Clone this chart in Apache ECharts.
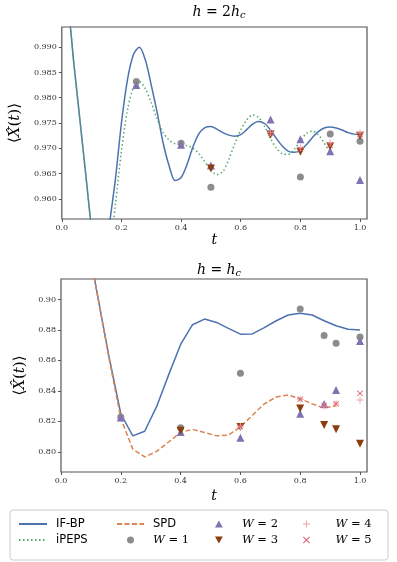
<!DOCTYPE html>
<html>
<head>
<meta charset="utf-8">
<script src="https://cdn.jsdelivr.net/npm/echarts@6/dist/echarts.min.js"></script>
<style>
  html, body { margin: 0; padding: 0; background: #fff; }
  #chart { width: 397px; height: 562px; }
</style>
</head>
<body>
<div id="chart"></div>
<script>
// top panel, h = 2h_c
var tTop = [0, 0.02, 0.04, 0.06, 0.08, 0.10, 0.12, 0.14, 0.16, 0.18, 0.20, 0.22, 0.24, 0.26, 0.28, 0.30, 0.32,
    0.34, 0.36, 0.38, 0.40, 0.42, 0.44, 0.46, 0.48, 0.50, 0.52, 0.54, 0.56, 0.58, 0.60, 0.62, 0.64, 0.66,
    0.68, 0.70, 0.72, 0.74, 0.76, 0.78, 0.80, 0.82, 0.84, 0.86, 0.88, 0.90, 0.92, 0.94, 0.96, 0.98, 1.00];
var ifbpTop = [1.000, 0.998, 0.987, 0.976, 0.965, 0.954, 0.946, 0.945, 0.955, 0.964, 0.975, 0.9835, 0.9885, 0.9900,
    0.9875, 0.9825, 0.977, 0.971, 0.9665, 0.9636, 0.9642, 0.9668, 0.9703, 0.9729, 0.9741, 0.9743, 0.9738,
    0.9731, 0.9726, 0.9724, 0.9727, 0.9737, 0.9748, 0.9753, 0.9749, 0.9736, 0.9719, 0.9704, 0.9694, 0.9692,
    0.9696, 0.9707, 0.9721, 0.9733, 0.9740, 0.9742, 0.9740, 0.9736, 0.9731, 0.9728, 0.9727];
var ipepsTop = [1.000, 0.998, 0.987, 0.976, 0.965, 0.954, 0.946, 0.944, 0.949, 0.959, 0.9695, 0.9775, 0.9820,
    0.9832, 0.9818, 0.9790, 0.9757, 0.9731, 0.9716, 0.9709, 0.9707, 0.9705, 0.9700, 0.9689, 0.9673, 0.9657,
    0.9648, 0.9654, 0.9678, 0.9709, 0.9736, 0.9756, 0.9766, 0.9761, 0.9743, 0.9719, 0.9700, 0.9689, 0.9688,
    0.9698, 0.9715, 0.9729, 0.9734, 0.9727, 0.9710, 0.9692];

var w1TopT = [0.25, 0.4, 0.5, 0.8, 0.9, 1.0];
var w1Top = [0.9832, 0.9710, 0.9623, 0.9643, 0.9728, 0.9714];
var w2TopT = [0.25, 0.4, 0.5, 0.7, 0.8, 0.9, 1.0];
var w2Top = [0.9825, 0.9707, 0.9666, 0.9757, 0.9718, 0.9694, 0.9637];
var w3TopT = [0.5, 0.7, 0.8, 0.9, 1.0];
var w3Top = [0.9660, 0.9727, 0.9693, 0.9704, 0.9725];
var w4TopT = [0.7, 0.8, 0.9, 1.0];
var w4Top = [0.9731, 0.9701, 0.9711, 0.9730];
var w5TopT = [0.7, 0.8, 0.9, 1.0];
var w5Top = [0.9729, 0.9698, 0.9706, 0.9727];

// bottom panel, h = h_c
var tBot = [0, 0.04, 0.08, 0.12, 0.16, 0.20, 0.24, 0.28, 0.32, 0.36, 0.40, 0.44, 0.48, 0.52, 0.56, 0.60, 0.64,
    0.68, 0.72, 0.76, 0.80, 0.84, 0.88, 0.92, 0.96, 1.00];
var ifbpBot = [1.000, 0.985, 0.948, 0.905, 0.863, 0.825, 0.8105, 0.8135, 0.8298, 0.8505, 0.8705, 0.8834, 0.8871,
    0.8849, 0.8810, 0.8772, 0.8774, 0.8815, 0.8860, 0.8898, 0.8910, 0.8898, 0.8860, 0.8827, 0.8805, 0.8800];
var spdBot = [1.000, 0.985, 0.948, 0.905, 0.862, 0.822, 0.8018, 0.7967, 0.8003, 0.8065, 0.8128, 0.8148, 0.8127,
    0.8105, 0.8110, 0.8164, 0.8240, 0.8315, 0.8360, 0.8373, 0.8348, 0.8315, 0.8287, 0.8303];

var w1BotT = [0.2, 0.4, 0.6, 0.8, 0.88, 0.92, 1.0];
var w1Bot = [0.8228, 0.8158, 0.8516, 0.8937, 0.8763, 0.8713, 0.8753];
var w2BotT = [0.2, 0.4, 0.6, 0.8, 0.88, 0.92, 1.0];
var w2Bot = [0.8226, 0.8130, 0.8092, 0.8250, 0.8314, 0.8406, 0.8728];
var w3BotT = [0.4, 0.6, 0.8, 0.88, 0.92, 1.0];
var w3Bot = [0.8138, 0.8164, 0.8285, 0.8176, 0.8148, 0.8053];
var w4BotT = [0.6, 0.8, 0.88, 0.92, 1.0];
var w4Bot = [0.8166, 0.8345, 0.8300, 0.8316, 0.8340];
var w5BotT = [0.6, 0.8, 0.88, 0.92, 1.0];
var w5Bot = [0.8166, 0.8345, 0.8305, 0.8316, 0.8384];

var xTicks = [0, 0.2, 0.4, 0.6, 0.8, 1.0];
var yTicksTop = [0.960, 0.965, 0.970, 0.975, 0.980, 0.985, 0.990];
var yTicksBot = [0.80, 0.82, 0.84, 0.86, 0.88, 0.90];

var blue = '#4c72b0', orange = '#dd8452', green = '#55a868', gray = '#8c8c8c',
    purple = '#8172b3', brown = '#8b3d0f', pink = '#f2a3ab', red = '#d6606b';
var serif = 'DejaVu Serif';
var upTri = 'path://M5,0 L10,9 L0,9 Z';
var downTri = 'path://M0,0 L10,0 L5,9 Z';
var plus = 'path://M4.3,0 H5.7 V4.3 H10 V5.7 H5.7 V10 H4.3 V5.7 H0 V4.3 H4.3 Z';
var cross = 'path://M1,0 L5,4 L9,0 L10,1 L6,5 L10,9 L9,10 L5,6 L1,10 L0,9 L4,5 L0,1 Z';

function pairs(xs, ys) {
    return ys.map(function (v, i) { return [xs[i], v]; });
}

function mathRich(size) {
    return {
        i: { fontFamily: serif, fontStyle: 'italic', fontWeight: 'normal', fontSize: size, color: '#000' },
        m: { fontFamily: serif, fontWeight: 'normal', fontSize: size, color: '#000' },
        s: { fontFamily: serif, fontStyle: 'italic', fontWeight: 'normal', fontSize: size * 0.7, color: '#000',
            padding: [size * 0.4, 0, 0, 0] }
    };
}

function xAxis(idx, gap) {
    return {
        type: 'value', gridIndex: idx, min: 0, max: 1.0234,
        name: '{i|t}', nameLocation: 'middle', nameGap: gap,
        nameTextStyle: { rich: mathRich(14) },
        axisLine: { show: false },
        splitLine: { show: false },
        axisTick: { customValues: xTicks, length: 3, lineStyle: { color: '#555' } },
        axisLabel: {
            customValues: xTicks, fontFamily: serif, fontSize: 8, color: '#333', margin: 5,
            formatter: function (v) { return v.toFixed(1); }
        }
    };
}

function yAxis(idx, min, max, ticks, dec) {
    return {
        type: 'value', gridIndex: idx, min: min, max: max,
        name: '⟨{i|X̂}({i|t})⟩', nameLocation: 'middle', nameGap: 30, nameRotate: 90,
        nameTextStyle: { rich: mathRich(15), fontFamily: serif, fontSize: 15, color: '#000' },
        axisLine: { show: false },
        splitLine: { show: false },
        axisTick: { customValues: ticks, length: 3, lineStyle: { color: '#555' } },
        axisLabel: {
            customValues: ticks, fontFamily: serif, fontSize: 8, color: '#333', margin: 5,
            formatter: function (v) { return v.toFixed(dec); }
        }
    };
}

function lineSeries(name, idx, xs, ys, color, type) {
    return {
        name: name, type: 'line', xAxisIndex: idx, yAxisIndex: idx,
        data: pairs(xs, ys), symbol: 'none', smooth: idx === 0 ? 0.3 : false, z: 2,
        clip: true, color: color,
        lineStyle: { color: color, width: 1.5, type: type }
    };
}

function scatterSeries(name, idx, xs, ys, color, symbol, size) {
    return {
        name: name, type: 'scatter', xAxisIndex: idx, yAxisIndex: idx,
        data: pairs(xs, ys), symbol: symbol, symbolSize: size, z: 3, color: color,
        itemStyle: { color: color, opacity: 1 }
    };
}

var legendBase = {
    orient: 'vertical', top: 513, itemHeight: 7, itemGap: 4,
    textStyle: {
        fontFamily: 'DejaVu Sans', fontSize: 11.5, color: '#000', padding: [0, 0, 0, 4],
        rich: {
            i: { fontFamily: serif, fontStyle: 'italic', fontSize: 11.5, color: '#000' },
            m: { fontFamily: serif, fontSize: 11.5, color: '#000' }
        }
    },
    formatter: function (name) {
        if (name.charAt(0) === 'W') {
            return '{i|W}{m| = ' + name.slice(4) + '}';
        }
        return name;
    }
};

// line entries: hide the marker the legend puts on the line
function lineItem(name) {
    return { name: name, itemStyle: { opacity: 0 } };
}

function legend(names, left, w) {
    return Object.assign({}, legendBase, { data: names, left: left, itemWidth: w });
}

var option = {
    animation: false,
    backgroundColor: '#fff',
    title: [
        { text: '{i|h}{m| = 2}{i|h}{s|c}', left: 214, top: 0, textAlign: 'center', textStyle: { rich: mathRich(14) } },
        { text: '{i|h}{m| = }{i|h}{s|c}', left: 214, top: 258, textAlign: 'center', textStyle: { rich: mathRich(14) } }
    ],
    grid: [
        { left: 61, top: 27, width: 306, height: 192, show: true, borderColor: '#555', borderWidth: 1.2 },
        { left: 61, top: 279, width: 306, height: 193, show: true, borderColor: '#555', borderWidth: 1.2 }
    ],
    xAxis: [xAxis(0, 11), xAxis(1, 17)],
    yAxis: [
        yAxis(0, 0.956, 0.994, yTicksTop, 3),
        yAxis(1, 0.7868, 0.9134, yTicksBot, 2)
    ],
    legend: [
        legend([lineItem('IF-BP'), lineItem('iPEPS')], 13, 28),
        legend([lineItem('SPD'), 'W = 1'], 111, 27),
        legend(['W = 2', 'W = 3'], 210, 28),
        legend(['W = 4', 'W = 5'], 298, 40)
    ],
    graphic: [{
        type: 'rect', shape: { x: 10, y: 510, width: 378, height: 50, r: 3 },
        style: { fill: 'none', stroke: '#cccccc', lineWidth: 1 }, z: -1
    }],
    series: [
        lineSeries('IF-BP', 0, tTop, ifbpTop, blue, 'solid'),
        lineSeries('iPEPS', 0, tTop, ipepsTop, green, [1.5, 2.5]),
        scatterSeries('W = 1', 0, w1TopT, w1Top, gray, 'circle', 7),
        scatterSeries('W = 2', 0, w2TopT, w2Top, purple, upTri, 8),
        scatterSeries('W = 3', 0, w3TopT, w3Top, brown, downTri, 8),
        scatterSeries('W = 4', 0, w4TopT, w4Top, pink, plus, 7),
        scatterSeries('W = 5', 0, w5TopT, w5Top, red, cross, 6),

        lineSeries('IF-BP', 1, tBot, ifbpBot, blue, 'solid'),
        lineSeries('SPD', 1, tBot, spdBot, orange, [5, 2.5]),
        scatterSeries('W = 1', 1, w1BotT, w1Bot, gray, 'circle', 7),
        scatterSeries('W = 2', 1, w2BotT, w2Bot, purple, upTri, 8),
        scatterSeries('W = 3', 1, w3BotT, w3Bot, brown, downTri, 8),
        scatterSeries('W = 4', 1, w4BotT, w4Bot, pink, plus, 7),
        scatterSeries('W = 5', 1, w5BotT, w5Bot, red, cross, 6)
    ]
};

var myChart = echarts.init(document.getElementById('chart'));
myChart.setOption(option);
</script>
</body>
</html>
